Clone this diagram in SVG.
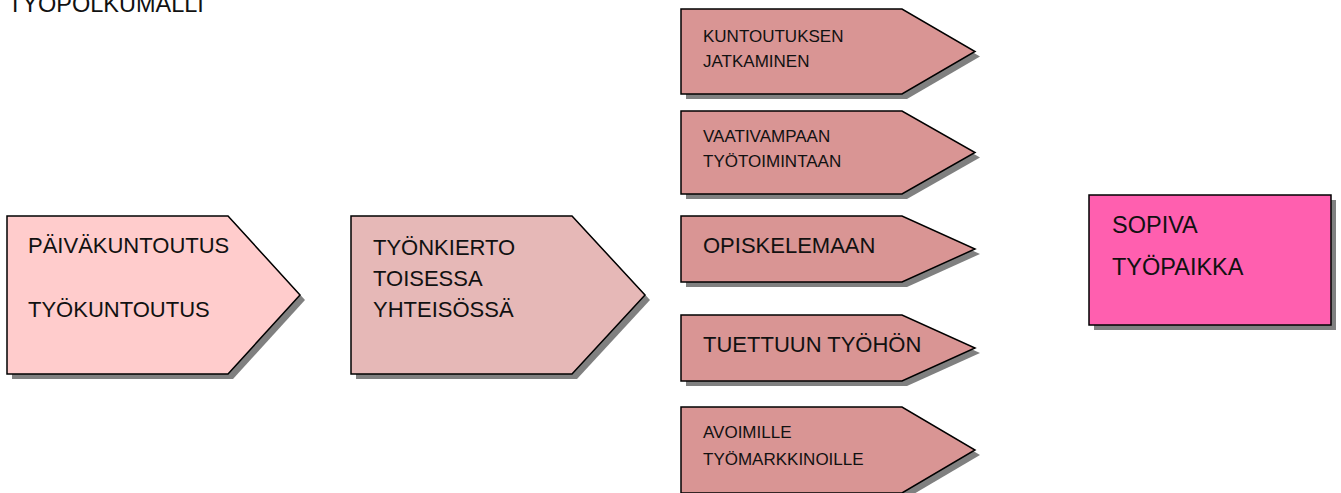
<svg xmlns="http://www.w3.org/2000/svg" xmlns:xlink="http://www.w3.org/1999/xlink" width="1341" height="493" viewBox="0 0 1341 493">
  <style>
    .shadow { fill: #808080; stroke: none; }
    .shape { stroke: #000000; stroke-width: 1.5; stroke-linejoin: miter; }
    .c1 { fill: #FFCCCC; }
    .c2 { fill: #E6B8B7; }
    .c3 { fill: #D99594; }
    .c4 { fill: #FF5FAF; }
    text { font-family: "Liberation Sans", Arial, sans-serif; fill: #111111; }
    .big { font-size: 22px; }
    .small { font-size: 17px; }
    .huge { font-size: 23.5px; }
    .title { font-size: 23.5px; }
  </style>
  <rect width="1341" height="493" fill="#FFFFFF"/>
  <text class="title" x="8" y="12">TYÖPOLKUMALLI</text>

  <g id="connectors"/>

  <g id="node-paivakuntoutus">
    <polygon class="shadow" transform="translate(5,5)" points="7,216 228,216 300,295 228,374 7,374"/>
    <polygon class="shape c1" points="7,216 228,216 300,295 228,374 7,374"/>
    <text class="big" x="28" y="253">PÄIVÄKUNTOUTUS</text>
    <text class="big" x="28" y="317">TYÖKUNTOUTUS</text>
  </g>

  <g id="node-tyonkierto">
    <polygon class="shadow" transform="translate(5,5)" points="351,216 572,216 645,295 572,374 351,374"/>
    <polygon class="shape c2" points="351,216 572,216 645,295 572,374 351,374"/>
    <text class="big" x="373" y="255">TYÖNKIERTO</text>
    <text class="big" x="373" y="286">TOISESSA</text>
    <text class="big" x="373" y="317">YHTEISÖSSÄ</text>
  </g>

  <g id="node-kuntoutuksen">
    <polygon class="shadow" transform="translate(5,5)" points="681,9 902,9 975,51.5 902,94 681,94"/>
    <polygon class="shape c3" points="681,9 902,9 975,51.5 902,94 681,94"/>
    <text class="small" x="703" y="42">KUNTOUTUKSEN</text>
    <text class="small" x="703" y="67">JATKAMINEN</text>
  </g>

  <g id="node-vaativampaan">
    <polygon class="shadow" transform="translate(5,5)" points="681,111 902,111 975,152.5 902,194 681,194"/>
    <polygon class="shape c3" points="681,111 902,111 975,152.5 902,194 681,194"/>
    <text class="small" x="703" y="142">VAATIVAMPAAN</text>
    <text class="small" x="703" y="167">TYÖTOIMINTAAN</text>
  </g>

  <g id="node-opiskelemaan">
    <polygon class="shadow" transform="translate(5,5)" points="681,216 902,216 975,249 902,282 681,282"/>
    <polygon class="shape c3" points="681,216 902,216 975,249 902,282 681,282"/>
    <text class="big" x="703" y="253">OPISKELEMAAN</text>
  </g>

  <g id="node-tuettuun">
    <polygon class="shadow" transform="translate(5,5)" points="681,315 902,315 975,348 902,381 681,381"/>
    <polygon class="shape c3" points="681,315 902,315 975,348 902,381 681,381"/>
    <text class="big" x="703" y="352">TUETTUUN TYÖHÖN</text>
  </g>

  <g id="node-avoimille">
    <polygon class="shadow" transform="translate(5,5)" points="681,407 902,407 975,450 902,493 681,493"/>
    <polygon class="shape c3" points="681,407 902,407 975,450 902,493 681,493"/>
    <text class="small" x="703" y="438">AVOIMILLE</text>
    <text class="small" x="703" y="465">TYÖMARKKINOILLE</text>
  </g>

  <g id="node-sopiva">
    <rect class="shadow" x="1094" y="200" width="242" height="130"/>
    <rect class="shape c4" x="1089" y="195" width="242" height="130"/>
    <text class="huge" x="1112" y="233">SOPIVA</text>
    <text class="huge" x="1112" y="275">TYÖPAIKKA</text>
  </g>
</svg>
